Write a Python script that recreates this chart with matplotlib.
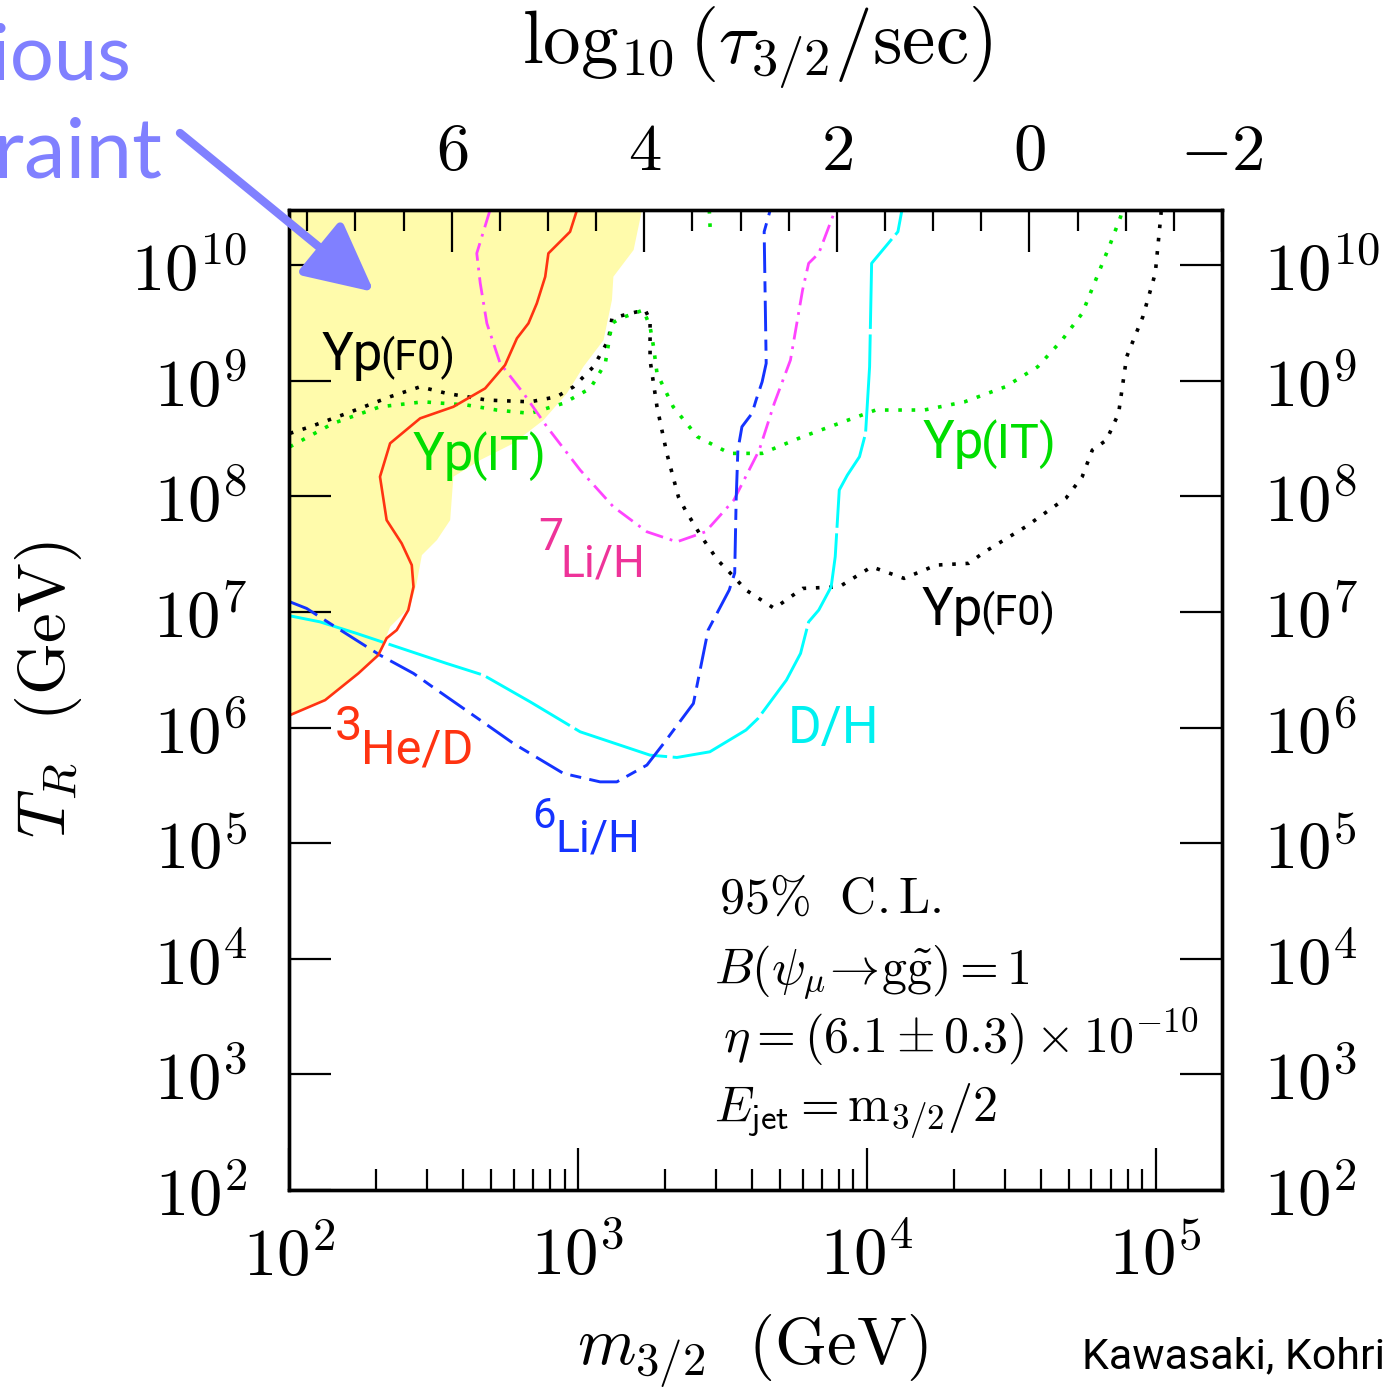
import numpy as np
import matplotlib.pyplot as plt
from matplotlib.patches import FancyArrowPatch
from matplotlib.ticker import FixedLocator, FuncFormatter, NullFormatter

plt.rcParams['mathtext.fontset'] = 'cm'
plt.rcParams['lines.scale_dashes'] = False

# BBN constraint curves as (log10 m_3/2 [GeV], log10 T_R [GeV])
prev_lm = [2.0, 3.222, 3.193, 3.123, 3.118, 3.089, 3.019, 2.962, 2.881, 2.777, 2.662,
           2.569, 2.558, 2.512, 2.460, 2.442, 2.419, 2.350, 2.315, 2.240, 2.125, 2.003, 2.0]
prev_lt = [10.476, 10.476, 10.130, 9.899, 9.697, 9.351, 9.120, 8.890, 8.659, 8.458, 8.313,
           8.169, 7.794, 7.621, 7.491, 7.249, 7.044, 6.871, 6.644, 6.468, 6.237, 6.107, 6.107]

he3_lm = [2.997, 2.973, 2.898, 2.887, 2.858, 2.829, 2.789, 2.748, 2.679, 2.569, 2.454, 2.350,
          2.315, 2.338, 2.390, 2.425, 2.431, 2.413, 2.373, 2.338, 2.309, 2.240, 2.125, 2.003]
he3_lt = [10.476, 10.288, 10.101, 9.899, 9.669, 9.496, 9.366, 9.135, 8.933, 8.774, 8.674, 8.458,
          8.169, 7.794, 7.593, 7.405, 7.217, 7.016, 6.843, 6.773, 6.626, 6.468, 6.237, 6.107]

li6_lm = [2.003, 2.061, 2.142, 2.315, 2.431, 2.488, 2.662, 2.777, 2.950, 3.077, 3.135, 3.239,
          3.297, 3.400, 3.451, 3.524, 3.543, 3.548, 3.554, 3.568, 3.603, 3.617, 3.638, 3.652,
          3.645, 3.666]
li6_lt = [7.087, 7.030, 6.900, 6.626, 6.468, 6.367, 6.064, 5.862, 5.603, 5.530, 5.530, 5.675,
          5.862, 6.208, 6.843, 7.189, 7.336, 7.967, 8.400, 8.601, 8.717, 8.832, 8.990, 9.150,
          10.288, 10.476]

li7_lm = [2.696, 2.650, 2.662, 2.685, 2.731, 2.812, 2.893, 3.008, 3.123, 3.239, 3.343, 3.442,
          3.540, 3.628, 3.680, 3.736, 3.778, 3.799, 3.834, 3.891]
li7_lt = [10.476, 10.101, 9.844, 9.496, 9.150, 8.890, 8.601, 8.227, 7.909, 7.693, 7.606, 7.693,
          7.967, 8.400, 8.804, 9.178, 9.784, 10.015, 10.101, 10.476]

dh_lm = [2.003, 2.107, 2.234, 2.373, 2.546, 2.673, 2.835, 3.008, 3.250, 3.343, 3.457, 3.582,
         3.624, 3.722, 3.771, 3.799, 3.834, 3.877, 3.891, 3.905, 3.933, 3.975, 3.996, 4.010,
         4.017, 4.108, 4.122]
dh_lt = [6.966, 6.914, 6.814, 6.698, 6.554, 6.453, 6.222, 5.963, 5.761, 5.741, 5.790, 5.978,
         6.079, 6.410, 6.641, 6.914, 7.016, 7.217, 7.477, 8.054, 8.183, 8.342, 8.544, 9.120,
         10.015, 10.288, 10.476]

ypit_lm = [2.003, 2.153, 2.315, 2.465, 2.616, 2.719, 2.835, 2.950, 3.043, 3.095, 3.118, 3.147,
           3.227, 3.250, 3.262, 3.274, 3.330, 3.414, 3.526, 3.638, 3.778, 3.919, 4.031, 4.199,
           4.339, 4.480, 4.592, 4.676, 4.746, 4.802, 4.844, 4.879, 4.885]
ypit_lt = [8.428, 8.631, 8.774, 8.817, 8.789, 8.746, 8.717, 8.804, 8.933, 9.150, 9.496, 9.539,
           9.611, 9.466, 9.293, 9.063, 8.774, 8.515, 8.371, 8.371, 8.515, 8.644, 8.746, 8.746,
           8.817, 8.947, 9.120, 9.351, 9.582, 9.928, 10.188, 10.418, 10.476]
ypit_top_lm = [3.455, 3.458]
ypit_top_lt = [10.476, 10.32]

ypfo_lm = [2.003, 2.073, 2.200, 2.350, 2.454, 2.546, 2.685, 2.835, 2.927, 2.985, 3.054, 3.106,
           3.118, 3.181, 3.233, 3.250, 3.250, 3.274, 3.308, 3.348, 3.372, 3.428, 3.484, 3.540,
           3.582, 3.680, 3.778, 3.905, 4.017, 4.129, 4.241, 4.353, 4.409, 4.550, 4.690, 4.746,
           4.781, 4.830, 4.872, 4.900, 4.956, 4.999, 5.019, 5.019]
ypfo_lt = [8.544, 8.601, 8.717, 8.861, 8.947, 8.890, 8.832, 8.817, 8.861, 8.947, 9.120, 9.351,
           9.539, 9.582, 9.611, 9.524, 9.178, 8.774, 8.371, 7.996, 7.881, 7.650, 7.448, 7.304,
           7.189, 7.030, 7.203, 7.217, 7.390, 7.290, 7.405, 7.420, 7.520, 7.736, 7.984, 8.169,
           8.400, 8.486, 8.717, 9.207, 9.553, 9.928, 10.447, 10.476]

# top axis: gravitino lifetime
tau_major = [6, 4, 2, 0, -2]
tau_minor = np.arange(-2.0, 8.0, 0.5)
y_decades = [2, 3, 4, 5, 6, 7, 8, 9, 10]


def tau_to_m(tau):
    return 10 ** ((13.69 - np.asarray(tau)) / 3.0)


W, H = 1394, 1388
fig = plt.figure(figsize=(W / 100, H / 100), dpi=100)
ax = fig.add_axes([289 / W, 1 - 1190 / H, (1222 - 289) / W, (1190 - 210) / H])
ax.set_xscale('log')
ax.set_yscale('log')
xlim = (1e2, float(tau_to_m(-2)))
ax.set_xlim(*xlim)
ax.set_ylim(1e2, 10 ** 10.476)


def curve(lm, lt, **kw):
    ax.plot(10 ** np.asarray(lm), 10 ** np.asarray(lt), **kw)


ax.fill(10 ** np.asarray(prev_lm), 10 ** np.asarray(prev_lt), color='#fffbab', lw=0, zorder=0)

dot = (0, (2.6, 7.0))
curve(ypfo_lm, ypfo_lt, color='black', lw=2.6, ls=dot)
curve(ypit_lm, ypit_lt, color='#00e800', lw=2.6, ls=dot)
curve(ypit_top_lm, ypit_top_lt, color='#00e800', lw=2.6, ls=dot)
curve(li7_lm, li7_lt, color='#ff44ff', lw=2.0, ls=(0, (13, 5, 2, 5)))
curve(dh_lm, dh_lt, color='#00ffff', lw=2.1, ls=(0, (70, 4)))
curve(li6_lm, li6_lt, color='#1433ff', lw=2.1, ls=(0, (22, 6, 8, 6)))
curve(he3_lm, he3_lt, color='#ff3311', lw=1.9)

# axes styling
for s in ax.spines.values():
    s.set_linewidth(2.4)
ax.yaxis.set_major_locator(FixedLocator([10.0 ** d for d in y_decades]))
ax.yaxis.set_major_formatter(FuncFormatter(lambda v, p: r'$10^{%d}$' % round(np.log10(v))))
ax.xaxis.set_major_formatter(FuncFormatter(lambda v, p: r'$10^{%d}$' % round(np.log10(v))))
ax.xaxis.set_minor_formatter(NullFormatter())
ax.yaxis.set_minor_formatter(NullFormatter())

top = ax.twiny()
top.set_xscale('log')
top.set_xlim(*xlim)
top.xaxis.set_major_locator(FixedLocator(tau_to_m(tau_major)))
top.xaxis.set_major_formatter(FuncFormatter(
    lambda v, p: r'$%d$' % round(13.69 - 3 * np.log10(v))))
top.xaxis.set_minor_locator(FixedLocator(tau_to_m(tau_minor)))
top.xaxis.set_minor_formatter(NullFormatter())
for s in top.spines.values():
    s.set_linewidth(2.4)

ax.tick_params(which='both', direction='in', top=False, right=True, labelright=True,
               width=1.6, labelsize=48)
ax.tick_params(which='major', length=30)
ax.tick_params(which='minor', length=15)
ax.tick_params(axis='x', which='major', pad=24)
ax.tick_params(axis='y', which='major', pad=30)
top.tick_params(which='both', direction='in', width=1.6, labelsize=48)
top.tick_params(which='major', length=30, pad=19)
top.tick_params(which='minor', length=15)

# curve labels
sans = ['Roboto', 'DejaVu Sans']
T = ax.transAxes


def lab(x, y, s, color, size):
    ax.text(x, y, s, transform=T, color=color, fontsize=size, family=sans, va='baseline')


lab(0.0354, 0.8367, 'Yp', 'black', 38)
lab(0.0975, 0.8367, '(F0)', 'black', 30)
lab(0.1329, 0.7347, 'Yp', '#00dd00', 38)
lab(0.1950, 0.7347, '(IT)', '#00dd00', 35)
lab(0.6795, 0.7470, 'Yp', '#00dd00', 38)
lab(0.7415, 0.7470, '(IT)', '#00dd00', 35)
lab(0.6785, 0.5765, 'Yp', 'black', 38)
lab(0.7405, 0.5765, '(F0)', 'black', 30)
lab(0.2669, 0.6530, '7', '#ee3399', 32)
lab(0.2905, 0.6265, 'Li/H', '#ee3399', 32)
lab(0.0493, 0.4590, '3', '#ff3311', 35)
lab(0.0775, 0.4357, 'He/D', '#ff3311', 35)
lab(0.2605, 0.3694, '6', '#1433ff', 30)
lab(0.2851, 0.3449, 'Li/H', '#1433ff', 32)
lab(0.5348, 0.4561, 'D/H', '#00f0f0', 37)

# parameters of the calculation
for x, y, s in [(0.461, 0.283, r'$\mathrm{95\%\ \ C.L.}$'),
                (0.4555, 0.211, r'$B(\psi_\mu\!\rightarrow\!\mathrm{g}\tilde{\mathrm{g}})=1$'),
                (0.465, 0.140, r'$\eta=(6.1\pm0.3)\times10^{-10}$'),
                (0.4555, 0.069, r'$E_{\mathsf{jet}}=\mathrm{m}_{\mathsf{3/2}}/2$')]:
    ax.text(x, y, s, transform=T, fontsize=36, va='baseline')

# axis titles
fig.text(752 / W, 1 - 1365 / H, r'$m_{3/2}\ \ (\mathrm{GeV})$', fontsize=48,
         ha='center', va='baseline')
fig.text(757 / W, 1 - 63 / H, r'$\log_{10}(\tau_{3/2}/\mathrm{sec})$', fontsize=54,
         ha='center', va='baseline')
fig.text(48 / W, 1 - 690 / H, r'$T_R\ \ (\mathrm{GeV})$', fontsize=48, rotation=90,
         ha='center', va='center')
fig.text(1385 / W, 1 - 1368 / H, 'Kawasaki, Kohri', fontsize=31, family=sans,
         ha='right', va='baseline')

# earlier bound callout
fig.text(131 / W, 1 - 80 / H, 'previous', fontsize=56, family=['Lato', 'DejaVu Sans'],
         color='#8080ff', ha='right', va='baseline')
fig.text(162 / W, 1 - 177 / H, 'constraint', fontsize=60, family=['Lato', 'DejaVu Sans'],
         color='#8080ff', ha='right', va='baseline')
arrow = FancyArrowPatch((180 / W, 1 - 133 / H), (374 / W, 1 - 292 / H),
                        transform=fig.transFigure, arrowstyle='-|>,head_length=1.4,head_width=0.7',
                        mutation_scale=30, lw=6, color='#8080ff', shrinkA=0, shrinkB=0)
fig.add_artist(arrow)

fig.savefig('out.png', dpi=100)
